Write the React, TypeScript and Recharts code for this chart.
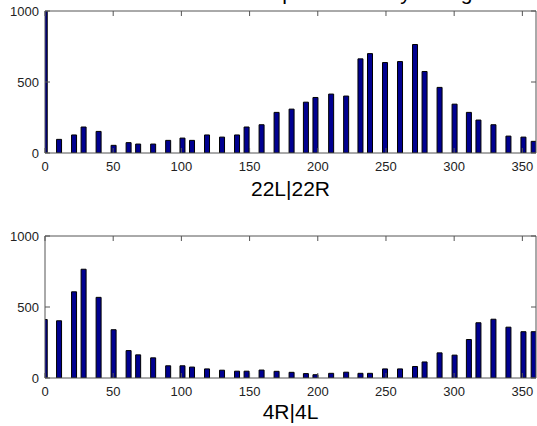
import React from 'react';
import { BarChart, Bar, XAxis, YAxis } from 'recharts';

// Bin centres (degrees)
const directions = [0, 10.5, 21.5, 28.5, 39.5, 50.5, 61.5, 68.5, 79.5, 90.5, 101, 108, 119, 130, 141, 148, 159, 170, 181, 191.5, 198.5, 210, 221, 231.5, 238.5, 249.5, 260.5, 271.5, 278.5, 289.5, 300.5, 311, 318, 329, 340, 351, 358.5];

// Counts for configuration 22L|22R
const counts22 = [1200, 96, 127, 183, 152, 54, 73, 63, 63, 89, 105, 89, 127, 112, 127, 183, 199, 286, 309, 358, 391, 415, 401, 663, 700, 637, 644, 764, 574, 462, 344, 286, 232, 199, 119, 112, 82];

// Counts for configuration 4R|4L
const counts4 = [412, 403, 607, 766, 568, 340, 193, 163, 142, 86, 86, 77, 64, 55, 48, 48, 56, 47, 40, 31, 23, 33, 41, 33, 33, 64, 64, 81, 113, 177, 161, 271, 389, 414, 358, 326, 326];

const xTicks = [0, 50, 100, 150, 200, 250, 300, 350];
const yTicks = [0, 500, 1000];
const labels = ['22L|22R', '4R|4L'];
const titleText = 'Wind direction at Airport sorted by config';

const data22 = directions.map((d, i) => ({ dir: d, count: counts22[i] }));
const data4 = directions.map((d, i) => ({ dir: d, count: counts4[i] }));

const FONT = '"Liberation Sans", Arial, sans-serif';
const AX = '#555';
const TICK_LEN = 5;

const BottomTick = (p: any) => (
  <g>
    <line x1={p.x} x2={p.x} y1={p.y} y2={p.y - TICK_LEN} stroke={AX} />
    <text x={p.x} y={p.y + 18} textAnchor="middle" fontSize={13} fontFamily={FONT} fill="#222">
      {p.payload.value}
    </text>
  </g>
);
const TopTick = (p: any) => (
  <line x1={p.x} x2={p.x} y1={p.y} y2={p.y + TICK_LEN} stroke={AX} />
);
const LeftTick = (p: any) => (
  <g>
    <line x1={p.x} x2={p.x + TICK_LEN} y1={p.y} y2={p.y} stroke={AX} />
    <text x={p.x - 6} y={p.y + 4.5} textAnchor="end" fontSize={13} fontFamily={FONT} fill="#222">
      {p.payload.value}
    </text>
  </g>
);
const RightTick = (p: any) => (
  <line x1={p.x} x2={p.x - TICK_LEN} y1={p.y} y2={p.y} stroke={AX} />
);

const makeLabel = (text: string, dy: number) => (props: any) => {
  const vb = props.viewBox || {};
  return (
    <text
      x={vb.x + vb.width / 2}
      y={vb.y + dy}
      textAnchor="middle"
      fontSize={21}
      fontFamily={FONT}
      fill="#000"
    >
      {text}
    </text>
  );
};

const Panel = ({ data, height, top, label, labelDy, bottomH }: any) => (
  <BarChart
    width={537}
    height={height}
    data={data}
    margin={{ top, right: 0, bottom: 0, left: 0 }}
  >
    <XAxis
      dataKey="dir"
      type="number"
      domain={[0, 360]}
      ticks={xTicks}
      allowDataOverflow
      height={bottomH}
      tickSize={0}
      tickMargin={0}
      tickLine={false}
      axisLine={{ stroke: AX }}
      tick={(p: any) => <BottomTick {...p} />}
      interval={0}
      label={makeLabel(label, labelDy)}
    />
    <XAxis
      xAxisId="top"
      orientation="top"
      dataKey="dir"
      type="number"
      domain={[0, 360]}
      ticks={xTicks}
      allowDataOverflow
      height={1}
      tickSize={0}
      tickMargin={0}
      tickLine={false}
      axisLine={{ stroke: AX }}
      tick={(p: any) => <TopTick {...p} />}
      interval={0}
    />
    <YAxis
      type="number"
      domain={[0, 1000]}
      ticks={yTicks}
      allowDataOverflow
      width={45}
      tickSize={0}
      tickMargin={0}
      tickLine={false}
      axisLine={{ stroke: AX }}
      tick={(p: any) => <LeftTick {...p} />}
      interval={0}
    />
    <YAxis
      yAxisId="right"
      orientation="right"
      type="number"
      domain={[0, 1000]}
      ticks={yTicks}
      allowDataOverflow
      width={1}
      tickSize={0}
      tickMargin={0}
      tickLine={false}
      axisLine={{ stroke: AX }}
      tick={(p: any) => <RightTick {...p} />}
      interval={0}
    />
    <Bar
      dataKey="count"
      fill="#000090"
      stroke="#000"
      strokeWidth={1}
      barSize={5}
      isAnimationActive={false}
    />
  </BarChart>
);

export default function App() {
  return (
    <div style={{ position: 'absolute', left: 0, top: 0, width: 537, height: 426, background: '#fff', overflow: 'hidden' }}>
      <svg width={537} height={10} style={{ position: 'absolute', left: 0, top: 0 }}>
        <text x={284} y={0} textAnchor="middle" fontSize={21} fontFamily={FONT} fill="#000">
          {titleText}
        </text>
      </svg>
      <div style={{ position: 'absolute', left: 0, top: 0 }}>
        <Panel data={data22} height={220} top={10} label={labels[0]} labelDy={43} bottomH={67} />
      </div>
      <div style={{ position: 'absolute', left: 0, top: 220 }}>
        <Panel data={data4} height={206} top={15} label={labels[1]} labelDy={41} bottomH={48} />
      </div>
    </div>
  );
}
